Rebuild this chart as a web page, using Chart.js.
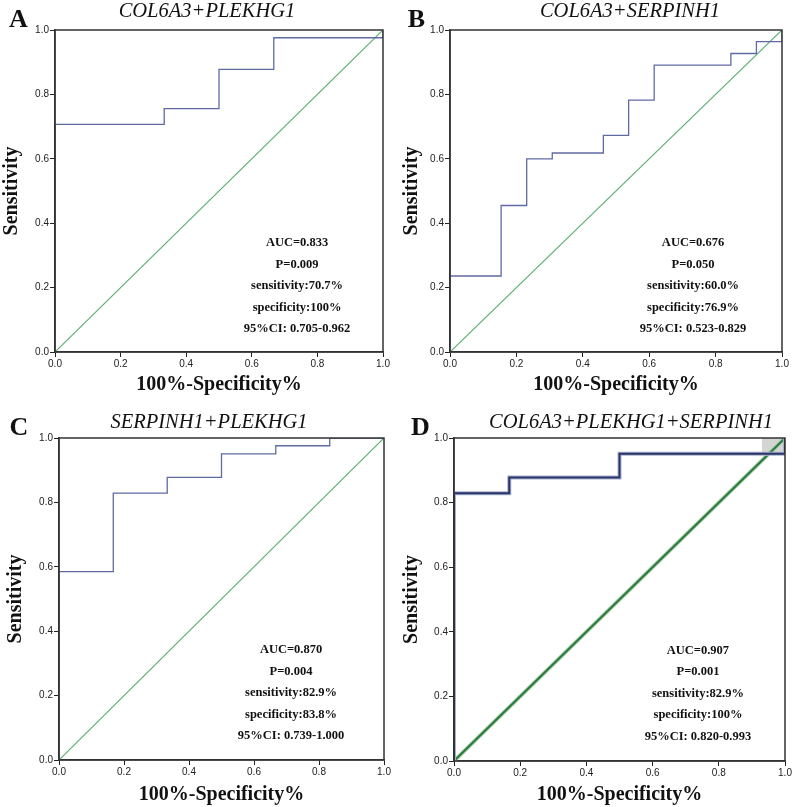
<!DOCTYPE html>
<html>
<head>
<meta charset="utf-8">
<script src="https://cdn.jsdelivr.net/npm/chart.js@4.4.1/dist/chart.umd.min.js"></script>
<style>
  body { margin: 0; background: #fff; width: 794px; height: 807px; position: relative; overflow: hidden; }
  .panel { position: absolute; width: 397px; height: 400px; }
</style>
</head>
<body>
<div class="panel" style="left:0;top:0"><canvas id="chartA" width="397" height="400"></canvas></div>
<div class="panel" style="left:397px;top:0"><canvas id="chartB" width="397" height="400"></canvas></div>
<div class="panel" style="left:0;top:407px"><canvas id="chartC" width="397" height="400"></canvas></div>
<div class="panel" style="left:397px;top:407px"><canvas id="chartD" width="397" height="400"></canvas></div>
<script>
// ROC curves (x = 1 - specificity, y = sensitivity)
const aFpr = [0, 0, 0.333, 0.333, 0.5, 0.5, 0.667, 0.667, 1, 1];
const aTpr = [0, 0.707, 0.707, 0.756, 0.756, 0.878, 0.878, 0.976, 0.976, 1];

const bFpr = [0, 0, 0.154, 0.154, 0.231, 0.231, 0.308, 0.308, 0.462, 0.462, 0.538, 0.538, 0.615, 0.615, 0.846, 0.846, 0.923, 0.923, 1, 1];
const bTpr = [0, 0.236, 0.236, 0.455, 0.455, 0.6, 0.6, 0.618, 0.618, 0.673, 0.673, 0.782, 0.782, 0.891, 0.891, 0.927, 0.927, 0.964, 0.964, 1];

const cFpr = [0, 0, 0.167, 0.167, 0.333, 0.333, 0.5, 0.5, 0.667, 0.667, 0.833, 0.833, 1];
const cTpr = [0, 0.585, 0.585, 0.829, 0.829, 0.878, 0.878, 0.951, 0.951, 0.976, 0.976, 1, 1];

const dFpr = [0, 0, 0.167, 0.167, 0.5, 0.5, 1, 1];
const dTpr = [0, 0.829, 0.829, 0.878, 0.878, 0.951, 0.951, 1];

// shaded strip at the top right of panel D
const dShadeX = [0.93, 1];
const dShadeY = [1, 1];
const dShadeBase = 0.951;

// reference diagonal
const refX = [0, 1];
const refY = [0, 1];

const tickValues = [0, 0.2, 0.4, 0.6, 0.8, 1.0];

const titles = ['COL6A3+PLEKHG1', 'COL6A3+SERPINH1', 'SERPINH1+PLEKHG1', 'COL6A3+PLEKHG1+SERPINH1'];
const letters = ['A', 'B', 'C', 'D'];
const statsA = ['AUC=0.833', 'P=0.009', 'sensitivity:70.7%', 'specificity:100%', '95%CI: 0.705-0.962'];
const statsB = ['AUC=0.676', 'P=0.050', 'sensitivity:60.0%', 'specificity:76.9%', '95%CI: 0.523-0.829'];
const statsC = ['AUC=0.870', 'P=0.004', 'sensitivity:82.9%', 'specificity:83.8%', '95%CI: 0.739-1.000'];
const statsD = ['AUC=0.907', 'P=0.001', 'sensitivity:82.9%', 'specificity:100%', '95%CI: 0.820-0.993'];

const SERIF = '"Liberation Serif", "Times New Roman", serif';
const SANS = '"Liberation Sans", Arial, sans-serif';

function toPoints(xs, ys) {
    return xs.map((x, i) => ({ x: x, y: ys[i] }));
}

// frame, letter, title and the statistics block
const panelText = {
    id: 'panelText',
    afterDraw(chart, args, opts) {
        const { ctx, chartArea: a, scales } = chart;
        ctx.save();
        ctx.strokeStyle = '#333';
        ctx.lineWidth = 1.5;
        ctx.strokeRect(a.left, a.top, a.right - a.left, a.bottom - a.top);

        ctx.fillStyle = '#111';
        ctx.textAlign = 'center';
        ctx.textBaseline = 'middle';
        ctx.font = 'bold 12.5px ' + SERIF;
        const sx = scales.x.getPixelForValue(opts.statX);
        const sy = scales.y.getPixelForValue(opts.statY);
        opts.stats.forEach((s, i) => ctx.fillText(s, sx, sy + i * 21.5));

        ctx.textBaseline = 'alphabetic';
        ctx.font = 'italic 20.5px ' + SERIF;
        ctx.fillText(opts.title, opts.titleX, opts.titleY);

        ctx.font = 'bold 26px ' + SERIF;
        ctx.fillText(opts.letter, opts.letterX, opts.letterY);
        ctx.restore();
    }
};

function makeChart(id, p) {
    // listed bottom layer first; Chart.js paints the first dataset last, so reverse below
    const datasets = [];
    if (p.shade) {
        datasets.push({
            data: toPoints(p.shade.x, p.shade.y),
            showLine: true, borderWidth: 0, pointRadius: 0,
            backgroundColor: '#d4d4d4', fill: { value: p.shade.base }
        });
    }
    if (p.bold) {
        // thick double-stroke look of panel D
        datasets.push({ data: toPoints(refX, refY), showLine: true, pointRadius: 0, borderColor: '#a6cfac', borderWidth: 4 });
        datasets.push({ data: toPoints(refX, refY), showLine: true, pointRadius: 0, borderColor: '#2e7a3e', borderWidth: 2 });
        datasets.push({ data: toPoints(p.fpr, p.tpr), showLine: true, pointRadius: 0, borderColor: '#a9b0cc', borderWidth: 4 });
        datasets.push({ data: toPoints(p.fpr, p.tpr), showLine: true, pointRadius: 0, borderColor: '#28346a', borderWidth: 2 });
    } else {
        datasets.push({ data: toPoints(refX, refY), showLine: true, pointRadius: 0, borderColor: '#5fae74', borderWidth: 1.2 });
        datasets.push({ data: toPoints(p.fpr, p.tpr), showLine: true, pointRadius: 0, borderColor: '#5f6aa3', borderWidth: 1.3 });
    }
    datasets.reverse();

    const tickFont = { family: SANS, size: 10 };
    return new Chart(document.getElementById(id), {
        type: 'scatter',
        data: { datasets: datasets },
        options: {
            responsive: false,
            animation: false,
            layout: { padding: { left: 0, top: p.top, right: p.right, bottom: 0 } },
            plugins: {
                legend: { display: false },
                tooltip: { enabled: false },
                panelText: {
                    stats: p.stats, statX: p.statX, statY: p.statY,
                    title: p.title, titleX: p.titleX, titleY: p.titleY,
                    letter: p.letter, letterX: p.letterX, letterY: p.letterY
                }
            },
            scales: {
                x: {
                    type: 'linear', min: 0, max: 1,
                    afterBuildTicks: s => { s.ticks = tickValues.map(v => ({ value: v })); },
                    ticks: { callback: v => v.toFixed(1), font: tickFont, color: '#222', padding: 1, maxRotation: 0 },
                    grid: { drawOnChartArea: false, tickLength: 5, tickColor: '#222' },
                    border: { color: '#333', width: 1.5 },
                    title: {
                        display: true, text: '100%-Specificity%', color: '#111',
                        font: { family: SERIF, size: 20, weight: 'bold' },
                        padding: { top: 0, bottom: p.xTitlePad }
                    },
                    afterFit: s => { s.height = p.xHeight; }
                },
                y: {
                    type: 'linear', min: 0, max: 1,
                    afterBuildTicks: s => { s.ticks = tickValues.map(v => ({ value: v })); },
                    ticks: { callback: v => v.toFixed(1), font: tickFont, color: '#222', padding: 1 },
                    grid: { drawOnChartArea: false, tickLength: 5, tickColor: '#222' },
                    border: { color: '#333', width: 1.5 },
                    title: {
                        display: true, text: 'Sensitivity', color: '#111',
                        font: { family: SERIF, size: 20, weight: 'bold' },
                        padding: { top: p.yTitlePad, bottom: 0 }
                    },
                    afterFit: s => { s.width = p.yWidth; }
                }
            }
        },
        plugins: [panelText]
    });
}

makeChart('chartA', {
    fpr: aFpr, tpr: aTpr, stats: statsA, statX: 0.738, statY: 0.338,
    title: titles[0], titleX: 207, titleY: 17, letter: letters[0], letterX: 18.5, letterY: 27,
    top: 30, right: 14, yWidth: 55, xHeight: 48, xTitlePad: 3, yTitlePad: 0
});
makeChart('chartB', {
    fpr: bFpr, tpr: bTpr, stats: statsB, statX: 0.732, statY: 0.338,
    title: titles[1], titleX: 233, titleY: 17, letter: letters[1], letterX: 19.5, letterY: 27,
    top: 30, right: 12, yWidth: 53, xHeight: 48, xTitlePad: 3, yTitlePad: 2.5
});
makeChart('chartC', {
    fpr: cFpr, tpr: cTpr, stats: statsC, statX: 0.714, statY: 0.342,
    title: titles[2], titleX: 209, titleY: 21, letter: letters[2], letterX: 19, letterY: 28,
    top: 31, right: 13, yWidth: 59, xHeight: 47, xTitlePad: 0, yTitlePad: 3.5
});
makeChart('chartD', {
    fpr: dFpr, tpr: dTpr, stats: statsD, statX: 0.737, statY: 0.342,
    title: titles[3], titleX: 234, titleY: 21, letter: letters[3], letterX: 23.5, letterY: 28,
    top: 31, right: 9, yWidth: 57, xHeight: 46, xTitlePad: 0, yTitlePad: 3,
    bold: true, shade: { x: dShadeX, y: dShadeY, base: dShadeBase }
});
</script>
</body>
</html>
